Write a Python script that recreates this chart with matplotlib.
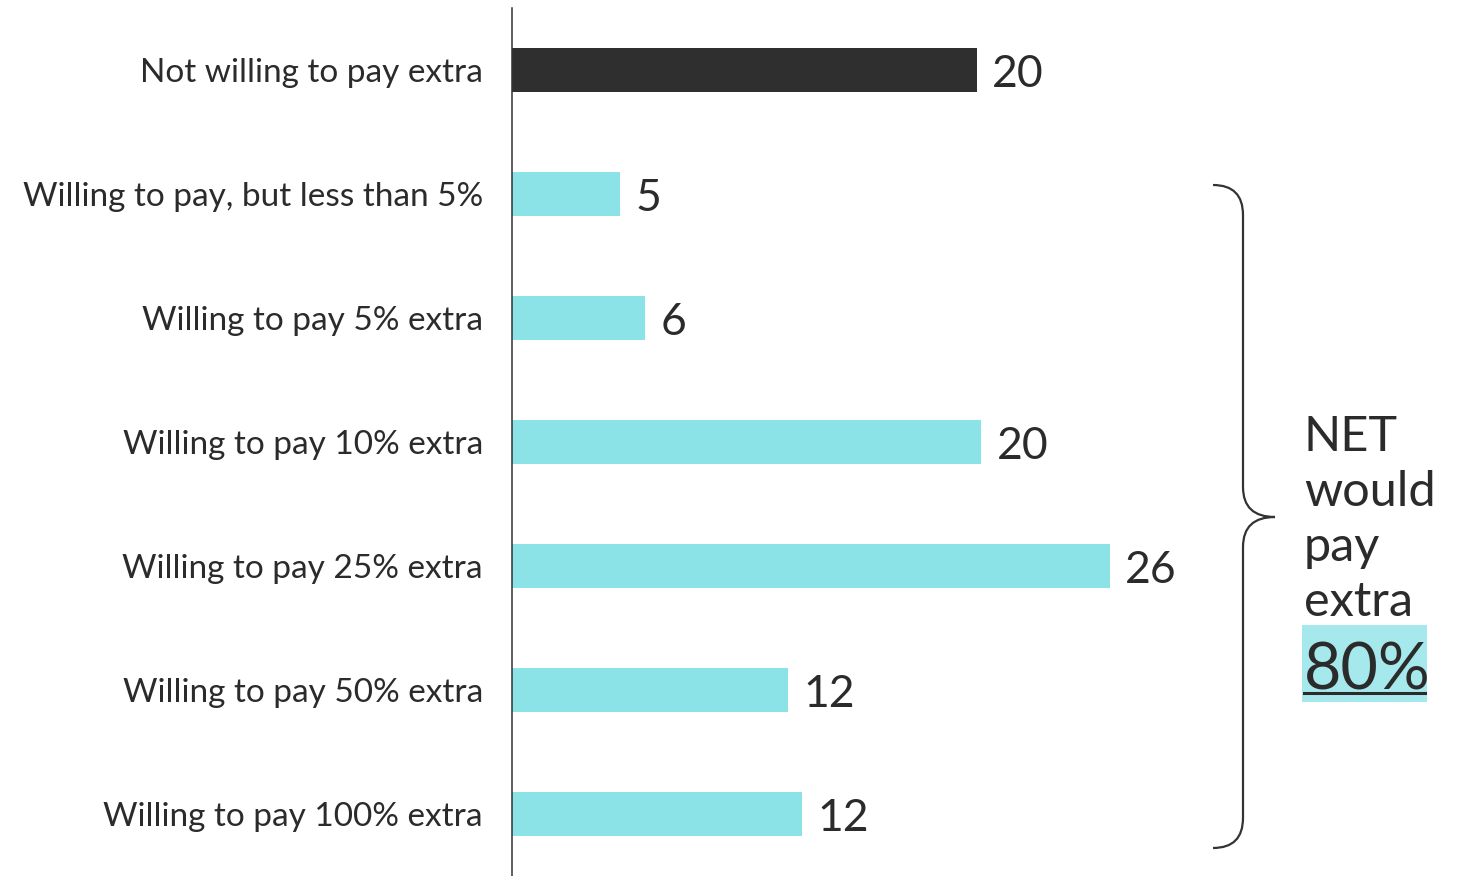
import matplotlib.pyplot as plt
from matplotlib.path import Path
from matplotlib.patches import PathPatch

categories = ["Not willing to pay extra", "Willing to pay, but less than 5%",
              "Willing to pay 5% extra", "Willing to pay 10% extra",
              "Willing to pay 25% extra", "Willing to pay 50% extra",
              "Willing to pay 100% extra"]
values = [20.2, 4.7, 5.8, 20.4, 26.0, 12.0, 12.6]
labels = ["20", "5", "6", "20", "26", "12", "12"]
net_lines = ["NET", "would", "pay", "extra"]
net_label = "80%"

dark = "#2f2f2f"
cyan = "#8ce3e7"
txt = "#2b2b2b"
plt.rcParams['font.family'] = ['Lato', 'DejaVu Sans']

W, H = 1466, 876
fig = plt.figure(figsize=(W / 100, H / 100), dpi=100)
ax = fig.add_axes([512 / W, 0, 1 - 512 / W, (H - 8) / H])

colors = [dark] + [cyan] * (len(values) - 1)
ypos = range(len(values))
ax.barh(ypos, values, height=0.36, color=colors)
for y, v, lab in zip(ypos, values, labels):
    ax.annotate(lab, (v, y), xytext=(11, -3), textcoords='offset points',
                va='center', ha='left', fontsize=32, color=txt)

ax.set_xlim(0, (W - 512) / 23)
ax.set_ylim(len(values) - 0.5, -0.5)
ax.set_yticks(list(ypos))
ax.set_yticklabels(categories, fontsize=24, color=txt)
ax.tick_params(axis='y', length=0, pad=21)
ax.set_xticks([])
for s in ['top', 'right', 'bottom']:
    ax.spines[s].set_visible(False)
ax.spines['left'].set_color('#333333')
ax.spines['left'].set_linewidth(1.1)

# overlay in pixel coordinates for the brace and NET note
ov = fig.add_axes([0, 0, 1, 1])
ov.set_xlim(0, W)
ov.set_ylim(H, 0)
ov.axis('off')
verts = [(1213, 185), (1243, 185), (1243, 215),
         (1243, 487),
         (1243, 517), (1275, 517),
         (1243, 517), (1243, 547),
         (1243, 818),
         (1243, 848), (1213, 848)]
codes = [Path.MOVETO, Path.CURVE3, Path.CURVE3,
         Path.LINETO,
         Path.CURVE3, Path.CURVE3,
         Path.CURVE3, Path.CURVE3,
         Path.LINETO,
         Path.CURVE3, Path.CURVE3]
ov.add_patch(PathPatch(Path(verts, codes), fill=False, lw=1.6, ec='#333333'))

for i, line in enumerate(net_lines):
    ov.text(1304, 451 + 55 * i, line, fontsize=35, color=txt,
            ha='left', va='baseline')
ov.add_patch(plt.Rectangle((1302, 625), 125, 77, fc='#a5e9ec', ec='none', zorder=1))
ov.text(1304, 689, net_label, fontsize=46.5, color=txt, ha='left',
        va='baseline', zorder=2)
ov.plot([1304, 1425], [693, 693], color=txt, lw=2.2, zorder=3)

fig.savefig("out.png", dpi=100)
